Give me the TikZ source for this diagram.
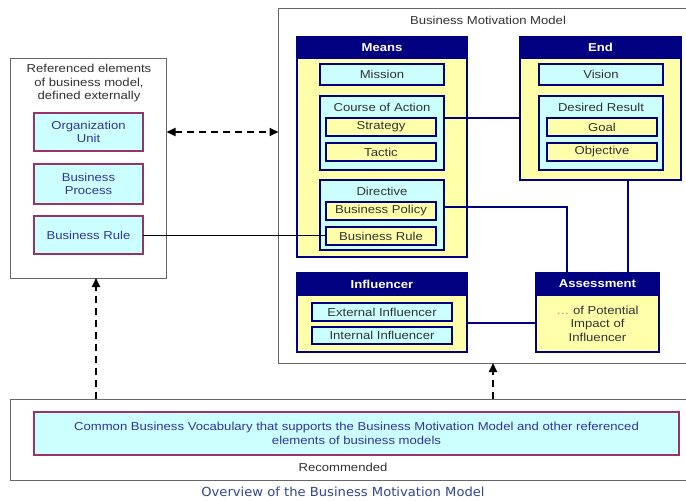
\documentclass[tikz,border=0pt]{standalone}
\usepackage{fontspec}
\setmainfont[FakeStretch=1.14]{Liberation Sans}
\newfontfamily\capfont[FakeStretch=1.05]{DejaVu Sans}
\usetikzlibrary{arrows.meta}
\definecolor{navy}{RGB}{0,0,128}
\definecolor{yel}{RGB}{255,255,170}
\definecolor{cy}{RGB}{204,255,255}
\definecolor{maroonc}{RGB}{153,51,102}
\definecolor{txtblue}{RGB}{51,51,153}
\definecolor{capblue}{RGB}{50,70,140}
\definecolor{dgray}{RGB}{50,50,50}
\tikzset{
  every node/.style={inner sep=0pt, outer sep=0pt, anchor=north west},
  outerbox/.style={draw=black!60, line width=1pt},
  refbox/.style={draw=maroonc, fill=cy, line width=1.5pt, text=txtblue, align=center},
  cont/.style={draw=navy, fill=yel, line width=1.5pt},
  hdr/.style={draw=navy, fill=navy, line width=1.5pt, text=white, font=\fontsize{11.5}{13.5}\selectfont\bfseries},
  cybox/.style={draw=navy, fill=cy, line width=1.8pt, text=dgray, align=center},
  yelbox/.style={draw=navy, fill=yel, line width=1.8pt, text=dgray, align=center},
  ttl/.style={anchor=center, text=dgray, align=center},
  link/.style={draw=navy, line width=1.5pt},
  dasharrow/.style={draw=black, line width=2pt, dash pattern=on 7pt off 5pt, -{Triangle[length=9pt,width=8pt]}},
}
\begin{document}
\begin{tikzpicture}[x=1pt, y=-1pt, font=\fontsize{11.5}{13.5}\selectfont]
\useasboundingbox (0,0) rectangle (686,501);
\fill[white] (0,0) rectangle (686,501);

% left referenced box
\node[outerbox, minimum width=156pt, minimum height=220pt] (leftbox) at (10.5,58) {};
\node[ttl] (lefttitle) at (89,83.5) {Referenced elements\\of business model,\\defined externally};
\node[refbox, minimum width=109pt, minimum height=38pt] (orgunit) at (34,113) {Organization\\Unit};
\node[refbox, minimum width=109pt, minimum height=40pt] (bproc) at (34,164) {Business\\Process};
\node[refbox, minimum width=109pt, minimum height=38pt] (brule) at (34,216) {Business Rule};

% business motivation model box
\node[outerbox, minimum width=412pt, minimum height=355pt] (bmm) at (278.5,8) {};
\node[ttl] (bmmtitle) at (488,20) {Business Motivation Model};

% Means
\node[cont, minimum width=170pt, minimum height=220pt] (means) at (297,37) {};
\node[hdr, minimum width=170pt, minimum height=21pt] (meanshdr) at (297,37) {Means};
\node[cybox, minimum width=124pt, minimum height=21pt] (mission) at (320,64) {Mission};
\node[cybox, minimum width=124pt, minimum height=74pt] (coa) at (320,96) {};
\node[ttl] (coatitle) at (382,107) {Course of Action};
\node[yelbox, minimum width=110pt, minimum height=18pt] (strategy) at (326,118) {Strategy};
\node[yelbox, minimum width=110pt, minimum height=18pt] (tactic) at (326,143) {Tactic};
\node[cybox, minimum width=124pt, minimum height=70pt] (directive) at (320,180) {};
\node[ttl] (dirtitle) at (382,191) {Directive};
\node[yelbox, minimum width=110pt, minimum height=18pt] (bpolicy) at (326,202) {Business Policy};
\node[yelbox, minimum width=110pt, minimum height=18pt] (brule2) at (326,227) {Business Rule};

% End
\node[cont, minimum width=161pt, minimum height=143pt] (endbox) at (520,37) {};
\node[hdr, minimum width=161pt, minimum height=21pt] (endhdr) at (520,37) {End};
\node[cybox, minimum width=124pt, minimum height=21pt] (vision) at (539,64) {Vision};
\node[cybox, minimum width=124pt, minimum height=74pt] (desres) at (539,96) {};
\node[ttl] (destitle) at (601,107) {Desired Result};
\node[yelbox, minimum width=110pt, minimum height=18pt] (goal) at (547,118) {Goal};
\node[yelbox, minimum width=110pt, minimum height=18pt] (objective) at (547,143) {Objective};

% Influencer
\node[cont, minimum width=170pt, minimum height=79pt] (infl) at (297,273) {};
\node[hdr, minimum width=170pt, minimum height=22pt] (inflhdr) at (297,273) {Influencer};
\node[cybox, minimum width=140pt, minimum height=18pt] (extinf) at (312,303) {External Influencer};
\node[cybox, minimum width=140pt, minimum height=17pt] (intinf) at (312,327) {Internal Influencer};

% Assessment
\node[cont, minimum width=123pt, minimum height=79pt] (assess) at (536,273) {};
\node[hdr, minimum width=123pt, minimum height=22pt] (asshdr) at (536,273) {Assessment};
\node[ttl] (asstext) at (597.5,323.5) {\textcolor{black!40}{\ldots} of Potential\\Impact of\\Influencer};

% connectors inside BMM
\coordinate (c1) at ([yshift=-22pt]coa.north east);
\draw[link] (c1) -- (c1 -| endbox.west);
\coordinate (c2) at ([yshift=-27pt]directive.north east);
\coordinate (c3) at ([xshift=31pt]assess.north west);
\draw[link] (c2) -| (c3);
\coordinate (c4) at ([xshift=92pt]assess.north west);
\draw[link] (c4 |- endbox.south) -- (c4);
\coordinate (c5) at ([yshift=-50pt]infl.north east);
\draw[link] (c5) -- (c5 -| assess.west);

% business rule link
\draw[black, line width=1pt] (brule.east) -- (brule.east -| brule2.west);

% dashed double arrow
\draw[dasharrow, {Triangle[length=9pt,width=8pt]}-{Triangle[length=9pt,width=8pt]}] (orgunit.east -| leftbox.east) -- (orgunit.east -| bmm.west);

% bottom box
\node[outerbox, minimum width=680pt, minimum height=81pt] (bottom) at (10.5,399) {};
\node[refbox, minimum width=645pt, minimum height=43pt] (vocab) at (34,412) {Common Business Vocabulary that supports the Business Motivation Model and other referenced\\elements of business models};
\node[ttl] (recom) at (343,467) {Recommended};

% upward dashed arrows
\coordinate (x1) at (96,0);
\coordinate (x2) at (493,0);
\draw[dasharrow] (bottom.north -| x1) -- (leftbox.south -| x1);
\draw[dasharrow] (bottom.north -| x2) -- (bmm.south -| x2);

% caption
\node[anchor=center, text=capblue, font=\capfont\fontsize{12.5}{14}\selectfont] (caption) at (343,492) {Overview of the Business Motivation Model};
\end{tikzpicture}
\end{document}
